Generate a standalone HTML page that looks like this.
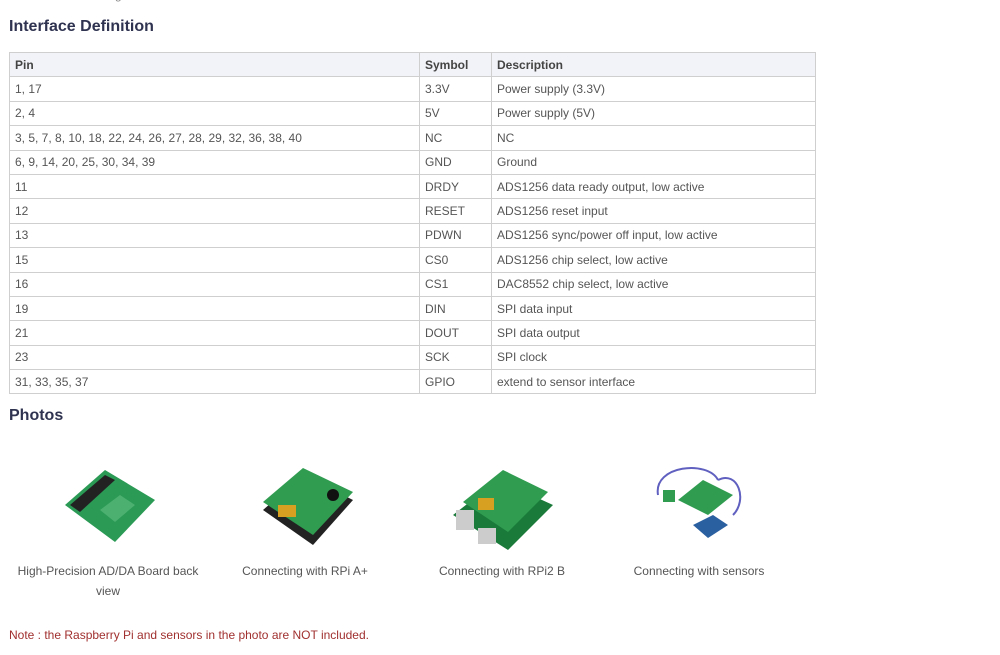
<!DOCTYPE html>
<html><head><meta charset="utf-8"><style>
body{margin:0;background:#fff;width:1000px;height:655px;overflow:hidden;font-family:"Liberation Sans",Arial,sans-serif;position:relative}
h2{position:absolute;left:9px;margin:0;font-size:16px;font-weight:bold;color:#2f3350}
table{position:absolute;left:9px;top:52px;border-collapse:collapse;width:807px;font-size:12px;color:#555}
td,th{border:1px solid #cfcfcf;height:24.4px;padding:0 0 0 5px;text-align:left;box-sizing:border-box}
th{background:#f2f3f8;color:#444;font-weight:bold}
.cap{position:absolute;font-size:12px;color:#555;text-align:center;line-height:20px}
.note{position:absolute;left:9px;top:628px;font-size:12px;color:#a0302f}
svg{position:absolute}
</style></head><body>
<div style="position:absolute;left:115px;top:-12px;font-size:12px;color:#888">g</div>
<h2 style="top:18px">Interface Definition</h2>
<table>
<tr><th style="width:410px">Pin</th><th style="width:72px">Symbol</th><th>Description</th></tr>
<tr><td>1, 17</td><td>3.3V</td><td>Power supply (3.3V)</td></tr>
<tr><td>2, 4</td><td>5V</td><td>Power supply (5V)</td></tr>
<tr><td>3, 5, 7, 8, 10, 18, 22, 24, 26, 27, 28, 29, 32, 36, 38, 40</td><td>NC</td><td>NC</td></tr>
<tr><td>6, 9, 14, 20, 25, 30, 34, 39</td><td>GND</td><td>Ground</td></tr>
<tr><td>11</td><td>DRDY</td><td>ADS1256 data ready output, low active</td></tr>
<tr><td>12</td><td>RESET</td><td>ADS1256 reset input</td></tr>
<tr><td>13</td><td>PDWN</td><td>ADS1256 sync/power off input, low active</td></tr>
<tr><td>15</td><td>CS0</td><td>ADS1256 chip select, low active</td></tr>
<tr><td>16</td><td>CS1</td><td>DAC8552 chip select, low active</td></tr>
<tr><td>19</td><td>DIN</td><td>SPI data input</td></tr>
<tr><td>21</td><td>DOUT</td><td>SPI data output</td></tr>
<tr><td>23</td><td>SCK</td><td>SPI clock</td></tr>
<tr><td>31, 33, 35, 37</td><td>GPIO</td><td>extend to sensor interface</td></tr>
</table>
<h2 style="top:407px">Photos</h2>

<svg style="left:60px;top:460px" width="100" height="90"><polygon points="5,45 45,10 95,40 55,82" fill="#2a9a55"/><polygon points="10,45 45,15 55,20 20,52" fill="#222"/><polygon points="40,50 60,35 75,45 55,62" fill="#4cb070"/></svg>
<svg style="left:258px;top:460px" width="100" height="95"><polygon points="5,50 45,15 95,40 55,85" fill="#222"/><polygon points="5,42 45,8 95,32 55,75" fill="#2f9c50"/><rect x="20" y="45" width="18" height="12" fill="#d8a020"/><circle cx="75" cy="35" r="6" fill="#111"/></svg>
<svg style="left:448px;top:460px" width="110" height="95"><polygon points="5,55 50,20 105,45 60,90" fill="#1a7a3a"/><polygon points="15,42 55,10 100,32 60,72" fill="#2f9c50"/><rect x="8" y="50" width="18" height="20" fill="#ccc"/><rect x="30" y="68" width="18" height="16" fill="#ccc"/><rect x="30" y="38" width="16" height="12" fill="#d8a020"/></svg>
<svg style="left:648px;top:460px" width="110" height="85"><path d="M10,35 C5,5 60,0 70,20 M70,20 C90,10 100,40 85,55" stroke="#6060c0" fill="none" stroke-width="2"/><polygon points="30,40 55,20 85,35 60,55" fill="#2f9c50"/><polygon points="45,65 65,55 80,65 60,78" fill="#2a5fa0"/><rect x="15" y="30" width="12" height="12" fill="#2f9c50"/></svg>

<div class="cap" style="left:8px;top:561px;width:200px">High-Precision AD/DA Board back<br>view</div>
<div class="cap" style="left:205px;top:561px;width:200px">Connecting with RPi A+</div>
<div class="cap" style="left:402px;top:561px;width:200px">Connecting with RPi2 B</div>
<div class="cap" style="left:599px;top:561px;width:200px">Connecting with sensors</div>
<div class="note">Note : the Raspberry Pi and sensors in the photo are NOT included.</div>
</body></html>
